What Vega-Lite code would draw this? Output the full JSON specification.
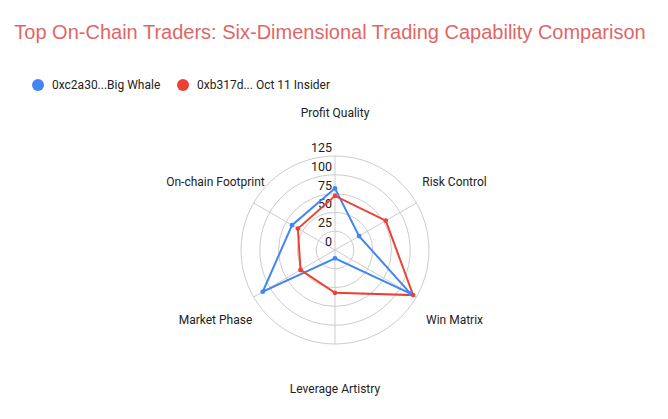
{
  "$schema": "https://vega.github.io/schema/vega-lite/v6.json",
  "width": 188,
  "height": 188,
  "autosize": {"type": "none"},
  "padding": {"left": 241, "top": 156, "right": 239, "bottom": 75},
  "background": "white",
  "config": {
    "view": {"stroke": null},
    "font": "Roboto",
    "title": {"font": "Liberation Sans", "fontSize": 20, "fontWeight": "normal", "color": "#E06666", "anchor": "middle", "offset": 36, "dx": -5}
  },
  "title": "Top On-Chain Traders: Six-Dimensional Trading Capability Comparison",
  "datasets": {
    "scores": [
      {"trader": "0xc2a30...Big Whale", "dimension": "Profit Quality", "idx": 0, "value": 82},
      {"trader": "0xc2a30...Big Whale", "dimension": "Risk Control", "idx": 1, "value": 37},
      {"trader": "0xc2a30...Big Whale", "dimension": "Win Matrix", "idx": 2, "value": 116},
      {"trader": "0xc2a30...Big Whale", "dimension": "Leverage Artistry", "idx": 3, "value": 11},
      {"trader": "0xc2a30...Big Whale", "dimension": "Market Phase", "idx": 4, "value": 111},
      {"trader": "0xc2a30...Big Whale", "dimension": "On-chain Footprint", "idx": 5, "value": 66},
      {"trader": "0xb317d... Oct 11 Insider", "dimension": "Profit Quality", "idx": 0, "value": 72},
      {"trader": "0xb317d... Oct 11 Insider", "dimension": "Risk Control", "idx": 1, "value": 78},
      {"trader": "0xb317d... Oct 11 Insider", "dimension": "Win Matrix", "idx": 2, "value": 120},
      {"trader": "0xb317d... Oct 11 Insider", "dimension": "Leverage Artistry", "idx": 3, "value": 57},
      {"trader": "0xb317d... Oct 11 Insider", "dimension": "Market Phase", "idx": 4, "value": 53},
      {"trader": "0xb317d... Oct 11 Insider", "dimension": "On-chain Footprint", "idx": 5, "value": 57}
    ],
    "dims": [
      {"dimension": "Profit Quality", "idx": 0},
      {"dimension": "Risk Control", "idx": 1},
      {"dimension": "Win Matrix", "idx": 2},
      {"dimension": "Leverage Artistry", "idx": 3},
      {"dimension": "Market Phase", "idx": 4},
      {"dimension": "On-chain Footprint", "idx": 5}
    ],
    "rings": [{"r": 25}, {"r": 50}, {"r": 75}, {"r": 100}, {"r": 125}],
    "ticks": [{"v": 0}, {"v": 25}, {"v": 50}, {"v": 75}, {"v": 100}, {"v": 125}]
  },
  "layer": [
    {
      "data": {"name": "rings"},
      "transform": [{"calculate": "0", "as": "cx"}],
      "mark": {"type": "point", "shape": "circle", "filled": false, "stroke": "#cccccc", "strokeWidth": 1, "opacity": 1},
      "encoding": {
        "x": {"field": "cx", "type": "quantitative", "scale": {"domain": [-125, 125], "nice": false, "zero": false}, "axis": null},
        "y": {"field": "cx", "type": "quantitative", "scale": {"domain": [-125, 125], "nice": false, "zero": false}, "axis": null},
        "size": {"field": "r", "type": "quantitative", "scale": {"type": "pow", "exponent": 2, "domain": [0, 125], "range": [0, 35344], "zero": true, "nice": false}, "legend": null}
      }
    },
    {
      "data": {"name": "dims"},
      "transform": [
        {"calculate": "datum.idx * PI / 3", "as": "angle"},
        {"calculate": "0", "as": "cx"},
        {"calculate": "125 * sin(datum.angle)", "as": "ex"},
        {"calculate": "125 * cos(datum.angle)", "as": "ey"}
      ],
      "mark": {"type": "rule", "color": "#cccccc", "strokeWidth": 1},
      "encoding": {
        "x": {"field": "cx", "type": "quantitative"},
        "y": {"field": "cx", "type": "quantitative"},
        "x2": {"field": "ex"},
        "y2": {"field": "ey"}
      }
    },
    {
      "data": {"name": "ticks"},
      "transform": [{"calculate": "0", "as": "cx"}],
      "mark": {"type": "text", "align": "right", "baseline": "bottom", "dx": -3, "dy": -1, "fontSize": 12.5, "color": "#222222"},
      "encoding": {
        "x": {"field": "cx", "type": "quantitative"},
        "y": {"field": "v", "type": "quantitative"},
        "text": {"field": "v", "type": "quantitative"}
      }
    },
    {
      "data": {"name": "dims"},
      "transform": [
        {"calculate": "datum.idx * PI / 3", "as": "angle"},
        {"calculate": "183.5 * sin(datum.angle)", "as": "lx"},
        {"calculate": "183.5 * cos(datum.angle)", "as": "ly"}
      ],
      "mark": {"type": "text", "align": "center", "baseline": "middle", "dy": 1, "fontSize": 12, "color": "#222222"},
      "encoding": {
        "x": {"field": "lx", "type": "quantitative"},
        "y": {"field": "ly", "type": "quantitative"},
        "text": {"field": "dimension", "type": "nominal"}
      }
    },
    {
      "data": {"name": "scores"},
      "transform": [
        {"calculate": "datum.idx * PI / 3", "as": "angle"},
        {"calculate": "datum.value * sin(datum.angle)", "as": "px"},
        {"calculate": "datum.value * cos(datum.angle)", "as": "py"}
      ],
      "mark": {"type": "line", "interpolate": "linear-closed", "strokeWidth": 2},
      "encoding": {
        "x": {"field": "px", "type": "quantitative"},
        "y": {"field": "py", "type": "quantitative"},
        "order": {"field": "idx", "type": "quantitative"},
        "color": {"field": "trader", "type": "nominal",
          "scale": {"domain": ["0xc2a30...Big Whale", "0xb317d... Oct 11 Insider"], "range": ["#4285F4", "#EA4335"]},
          "legend": {"title": null, "orient": "none", "direction": "horizontal", "legendX": -209, "legendY": -77,
            "symbolType": "circle", "symbolSize": 144, "symbolStrokeWidth": 0, "symbolFillColor": null, "labelFontSize": 12, "labelColor": "#222222", "labelFont": "Roboto",
            "labelOffset": 8, "columnPadding": 16, "symbolOpacity": 1}}
      }
    },
    {
      "data": {"name": "scores"},
      "transform": [
        {"calculate": "datum.idx * PI / 3", "as": "angle"},
        {"calculate": "datum.value * sin(datum.angle)", "as": "px"},
        {"calculate": "datum.value * cos(datum.angle)", "as": "py"}
      ],
      "mark": {"type": "point", "filled": true, "size": 22, "opacity": 1},
      "encoding": {
        "x": {"field": "px", "type": "quantitative"},
        "y": {"field": "py", "type": "quantitative"},
        "color": {"field": "trader", "type": "nominal",
          "scale": {"domain": ["0xc2a30...Big Whale", "0xb317d... Oct 11 Insider"], "range": ["#4285F4", "#EA4335"]},
          "legend": {"title": null, "orient": "none", "direction": "horizontal", "legendX": -209, "legendY": -77,
            "symbolType": "circle", "symbolSize": 144, "symbolStrokeWidth": 0, "labelFontSize": 12, "labelColor": "#222222", "labelFont": "Roboto",
            "labelOffset": 8, "columnPadding": 16, "symbolOpacity": 1}}
      }
    }
  ]
}
